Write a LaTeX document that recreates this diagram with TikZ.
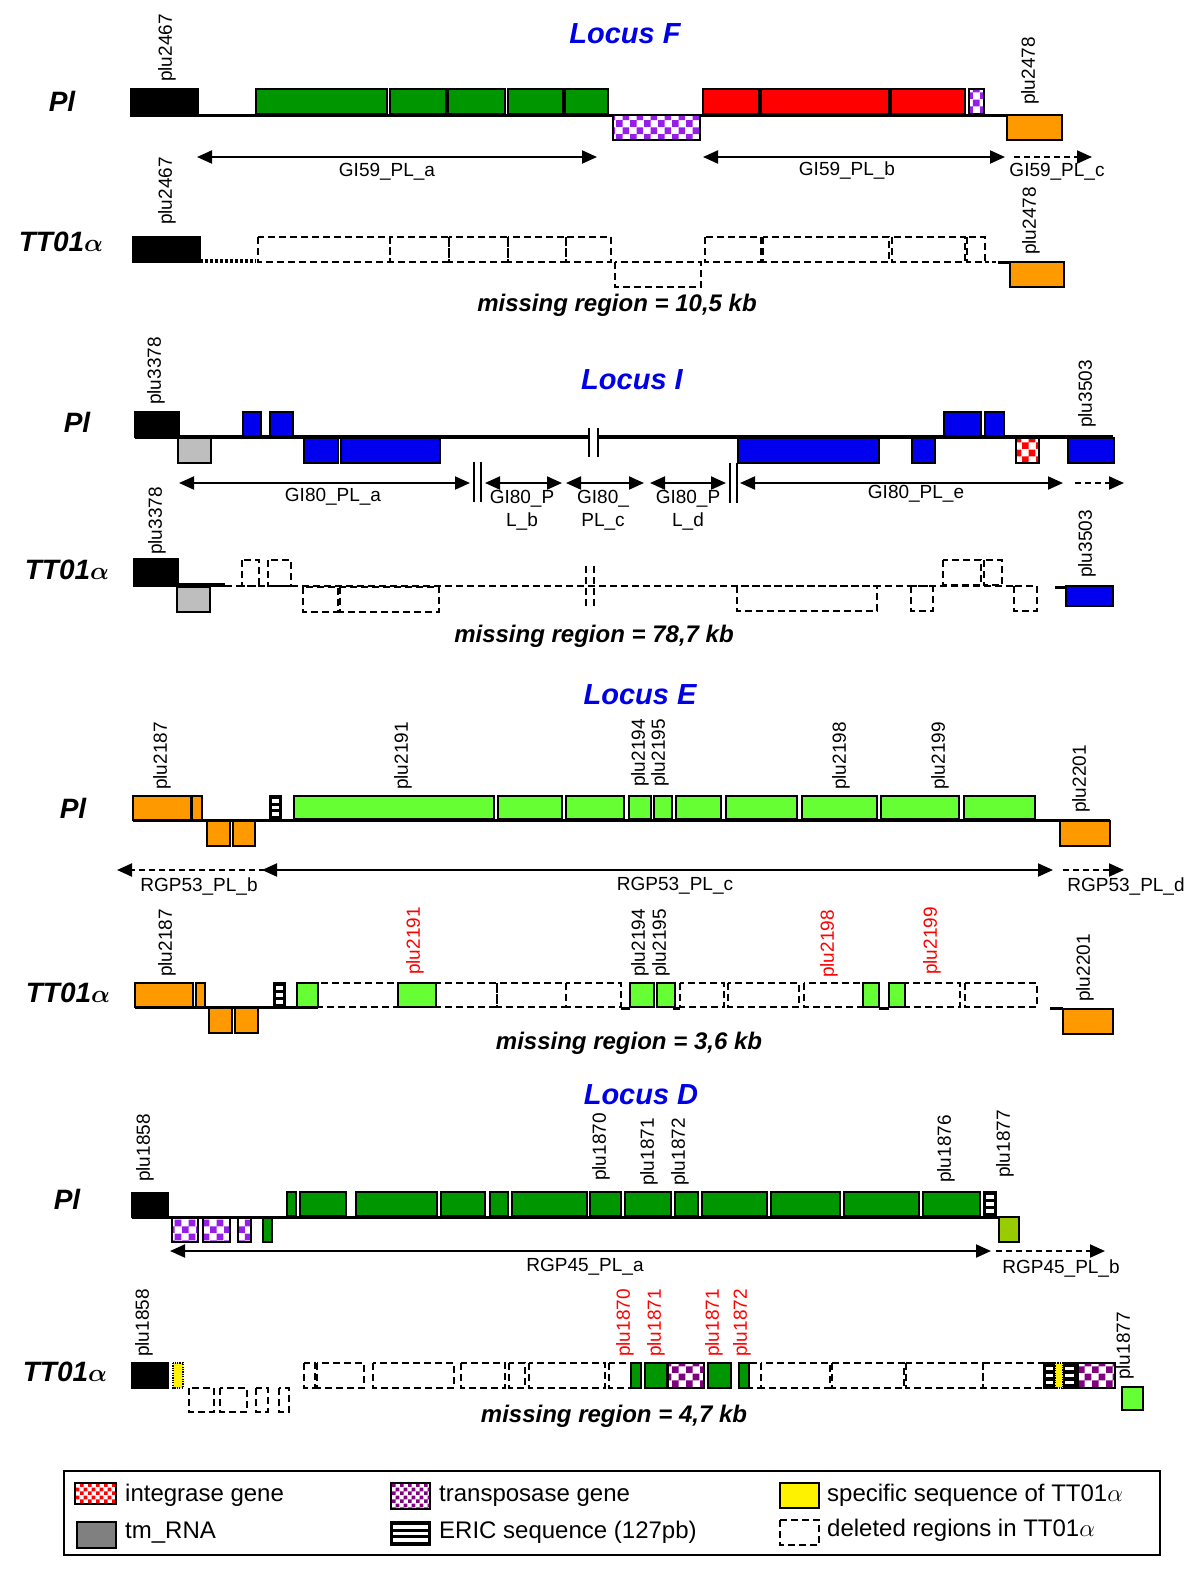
\documentclass[tikz,border=0pt]{standalone}
\usepackage{fontspec}
\setmainfont{Liberation Sans}
\usetikzlibrary{arrows.meta,patterns}
\pgfdeclarepatternformonly{bigcheck}{\pgfpointorigin}{\pgfqpoint{14pt}{14pt}}{\pgfqpoint{14pt}{14pt}}{%
  \pgfpathrectangle{\pgfpointorigin}{\pgfqpoint{7pt}{7pt}}%
  \pgfpathrectangle{\pgfqpoint{7pt}{7pt}}{\pgfqpoint{7pt}{7pt}}%
  \pgfusepath{fill}}
\pgfdeclarepatternformonly{smallcheck}{\pgfpointorigin}{\pgfqpoint{8pt}{8pt}}{\pgfqpoint{8pt}{8pt}}{%
  \pgfpathrectangle{\pgfpointorigin}{\pgfqpoint{4pt}{4pt}}%
  \pgfpathrectangle{\pgfqpoint{4pt}{4pt}}{\pgfqpoint{4pt}{4pt}}%
  \pgfusepath{fill}}
\definecolor{dgreen}{RGB}{0,150,0}
\definecolor{lgreen}{RGB}{102,255,51}
\definecolor{gorange}{RGB}{255,153,0}
\definecolor{gblue}{RGB}{0,0,238}
\definecolor{gviolet}{RGB}{150,30,230}
\definecolor{dpurple}{RGB}{128,0,128}
\definecolor{ygreen}{RGB}{153,204,0}
\definecolor{lgray}{RGB}{190,190,190}
\definecolor{mgray}{RGB}{128,128,128}
\definecolor{tblue}{RGB}{0,0,230}
\definecolor{gred}{RGB}{255,0,0}
\newcommand{\labfont}{\fontsize{19}{23}\selectfont}
\newcommand{\strainfont}{\fontsize{28}{28}\selectfont\bfseries\itshape}
\newcommand{\titlefont}{\fontsize{29}{29}\selectfont\bfseries\itshape}
\newcommand{\missfont}{\fontsize{24}{24}\selectfont\bfseries\itshape}
\newcommand{\legfont}{\fontsize{24}{24}\selectfont}
\newcommand{\genebox}[5]{\filldraw[gbox,fill=#5] (#1,#2) rectangle (#3,#4);}
\newcommand{\delbox}[4]{\draw[dbox] (#1,#2) rectangle (#3,#4);}
\newcommand{\chkbox}[6]{\fill[white] (#1,#2) rectangle (#3,#4);
  \fill[pattern=#6,pattern color=#5] (#1,#2) rectangle (#3,#4);
  \draw[gbox] (#1,#2) rectangle (#3,#4);}
\newcommand{\ericbox}[4]{\fill[black] (#1-0.9,#2-0.9) rectangle (#3+0.9,#4+0.9);
  \pgfmathsetmacro{\ericstep}{(#4-#2)/7}
  \foreach \k in {1,3,5} {\fill[white] (#1+2,{#2+\k*\ericstep}) rectangle (#3-2,{#2+(\k+1)*\ericstep});}}
\newcommand{\yelbox}[4]{\fill[yellow] (#1,#2) rectangle (#3,#4);
  \draw[line width=1.2pt,dash pattern=on 1.2pt off 1.2pt] (#1,#2) rectangle (#3,#4);}
\newcommand{\TTa}{TT01{\boldmath$\alpha$}}
\begin{document}
\begin{tikzpicture}[x=1pt,y=-1pt,
  gbox/.style={draw=black,line width=1.8pt},
  dbox/.style={draw=black,line width=1.6pt,dash pattern=on 7pt off 4pt},
  bb/.style={line width=3pt},
  dbl/.style={line width=2pt,{Triangle[length=15pt,width=13pt]}-{Triangle[length=15pt,width=13pt]}},
  dsh/.style={line width=2pt,dash pattern=on 6pt off 4pt,-{Triangle[length=15pt,width=13pt]}},
  bar/.style={line width=1.5pt},
  glab/.style={rotate=90,anchor=west,inner sep=0pt,font=\labfont},
  alab/.style={inner sep=0pt,font=\labfont,align=center},
  strain/.style={inner sep=0pt,font=\strainfont},
  ttl/.style={inner sep=0pt,font=\titlefont,text=tblue},
  miss/.style={inner sep=0pt,font=\missfont},
  leg/.style={anchor=west,inner sep=0pt,font=\legfont}]
\fill[white] (0,0) rectangle (1200,1583);
\useasboundingbox (0,0) rectangle (1200,1583);

%%%%%%%%%%%%%%%% LOCUS F
\node[ttl] (tiF) at (625,34) {Locus F};
\node[strain] (plF) at (62,101) {Pl};
\draw[bb] (131,115) -- (1007,115);
\genebox{131}{89}{198}{116}{black}
\genebox{256}{89}{387}{114}{dgreen}
\genebox{390}{89}{446}{114}{dgreen}
\genebox{448}{89}{505}{114}{dgreen}
\genebox{508}{89}{563}{114}{dgreen}
\genebox{565}{89}{608}{114}{dgreen}
\chkbox{613}{115}{700}{140}{gviolet}{bigcheck}
\genebox{703}{89}{759}{114}{gred}
\genebox{761}{89}{889}{114}{gred}
\genebox{891}{89}{965}{114}{gred}
\chkbox{969}{89}{984}{114}{gviolet}{bigcheck}
\genebox{1007}{115}{1062}{140}{gorange}
\node[glab] (gF1) at (167,82) {plu2467};
\node[glab] (gF2) at (1030,105) {plu2478};
\draw[dbl] (197,157) -- (597,157);
\node[alab] (aF1) at (387,172) {GI59\_PL\_a};
\draw[dbl] (703,157) -- (1005,157);
\node[alab] (aF2) at (847,170) {GI59\_PL\_b};
\draw[dsh] (1014,157) -- (1092,157);
\node[alab] (aF3) at (1057,172) {GI59\_PL\_c};

\node[strain] (ttF) at (61,242) {\TTa};
\genebox{133}{237}{200}{262}{black}
\draw[line width=3.5pt,dash pattern=on 3pt off 2pt] (200,261) -- (256,261);
\delbox{258}{237}{390}{262}
\delbox{390}{237}{449}{262}
\delbox{449}{237}{508}{262}
\delbox{508}{237}{566}{262}
\delbox{566}{237}{611}{262}
\delbox{615}{262}{701}{287}
\delbox{705}{237}{761}{262}
\delbox{763}{237}{889}{262}
\delbox{892}{237}{965}{262}
\delbox{967}{237}{985}{262}
\draw[line width=1.6pt,dash pattern=on 4pt off 3pt] (985,262) -- (998,262);
\draw[line width=3pt] (998,262) -- (1011,262);
\genebox{1010}{262}{1064}{287}{gorange}
\node[glab] (gF3) at (167,225) {plu2467};
\node[glab] (gF4) at (1031,255) {plu2478};
\node[miss] (mF) at (617,305) {missing region = 10,5 kb};

%%%%%%%%%%%%%%%% LOCUS I
\node[ttl] (tiI) at (632,380) {Locus I};
\node[strain] (plI) at (77,422) {Pl};
\draw[line width=4pt] (135,437) -- (1113,437);
\fill[white] (590,428) rectangle (597,447);
\draw[bar,line width=2.5pt] (589,428) -- (589,457);
\draw[bar,line width=2.5pt] (598,428) -- (598,457);
\genebox{135}{412}{179}{437}{black}
\genebox{178}{438}{211}{463}{lgray}
\genebox{243}{412}{261}{436}{gblue}
\genebox{270}{412}{293}{436}{gblue}
\genebox{304}{438}{338}{463}{gblue}
\genebox{341}{438}{440}{463}{gblue}
\genebox{738}{438}{879}{463}{gblue}
\genebox{912}{438}{935}{463}{gblue}
\genebox{944}{412}{981}{436}{gblue}
\genebox{985}{412}{1004}{436}{gblue}
\chkbox{1016}{438}{1039}{463}{gred}{bigcheck}
\genebox{1068}{438}{1114}{463}{gblue}
\node[glab] (gI1) at (156,405) {plu3378};
\node[glab] (gI2) at (1087,428) {plu3503};
\draw[dbl] (179,483) -- (470,483);
\node[alab] (aI1) at (333,497) {GI80\_PL\_a};
\draw[bar] (474,462) -- (474,502);
\draw[bar] (481,462) -- (481,502);
\draw[dbl] (485,483) -- (562,483);
\node[alab] (aI2) at (522,510) {GI80\_P\\L\_b};
\draw[dbl] (566,483) -- (644,483);
\node[alab] (aI3) at (603,510) {GI80\_\\PL\_c};
\draw[dbl] (650,483) -- (726,483);
\node[alab] (aI4) at (688,510) {GI80\_P\\L\_d};
\draw[bar] (730,463) -- (730,503);
\draw[bar] (737,463) -- (737,503);
\draw[dbl] (740,483) -- (1063,483);
\node[alab] (aI5) at (916,494) {GI80\_PL\_e};
\draw[dsh] (1075,483) -- (1124,483);

\node[strain] (ttI) at (67,570) {\TTa};
\draw[line width=1.6pt,dash pattern=on 7pt off 4pt] (225,586) -- (1014,586);
\genebox{134}{559}{178}{586}{black}
\genebox{177}{587}{210}{612}{lgray}
\draw[line width=4pt] (178,585) -- (225,585);
\delbox{242}{560}{259}{586}
\delbox{268}{560}{291}{586}
\delbox{303}{587}{338}{612}
\delbox{340}{587}{439}{612}
\draw[dbox] (586,566) -- (586,606);
\draw[dbox] (594,566) -- (594,606);
\delbox{737}{586}{877}{611}
\delbox{911}{586}{933}{611}
\delbox{1014}{586}{1037}{611}
\delbox{943}{560}{981}{585}
\delbox{984}{560}{1002}{585}
\draw[line width=3pt] (1055,587) -- (1066,587);
\genebox{1066}{586}{1113}{606}{gblue}
\node[glab] (gI3) at (157,555) {plu3378};
\node[glab] (gI4) at (1087,578) {plu3503};
\node[miss] (mI) at (594,636) {missing region = 78,7 kb};

%%%%%%%%%%%%%%%% LOCUS E
\node[ttl] (tiE) at (640,695) {Locus E};
\node[strain] (plE) at (73,808) {Pl};
\draw[bb] (133,820) -- (1110,820);
\genebox{133}{796}{191}{820}{gorange}
\genebox{192}{796}{202}{820}{gorange}
\genebox{207}{821}{230}{846}{gorange}
\genebox{233}{821}{255}{846}{gorange}
\ericbox{270}{796}{281}{819}
\genebox{294}{796}{494}{819}{lgreen}
\genebox{498}{796}{562}{819}{lgreen}
\genebox{566}{796}{624}{819}{lgreen}
\genebox{629}{796}{651}{819}{lgreen}
\genebox{654}{796}{672}{819}{lgreen}
\genebox{676}{796}{721}{819}{lgreen}
\genebox{726}{796}{797}{819}{lgreen}
\genebox{802}{796}{877}{819}{lgreen}
\genebox{881}{796}{959}{819}{lgreen}
\genebox{964}{796}{1035}{819}{lgreen}
\genebox{1060}{821}{1110}{846}{gorange}
\node[glab] (gE1) at (162,790) {plu2187};
\node[glab] (gE2) at (403,790) {plu2191};
\node[glab] (gE3) at (640,787) {plu2194};
\node[glab] (gE4) at (660,787) {plu2195};
\node[glab] (gE5) at (841,790) {plu2198};
\node[glab] (gE6) at (940,790) {plu2199};
\node[glab] (gE7) at (1081,813) {plu2201};
\draw[dsh] (265,870) -- (117,870);
\draw[dbl] (262,870) -- (1053,870);
\draw[dsh] (1063,870) -- (1124,870);
\node[alab] (aE1) at (199,886) {RGP53\_PL\_b};
\node[alab] (aE2) at (675,886) {RGP53\_PL\_c};
\node[alab] (aE3) at (1126,886) {RGP53\_PL\_d};

\node[strain] (ttE) at (68,993) {\TTa};
\draw[bb] (135,1007) -- (318,1007);
\genebox{135}{983}{193}{1007}{gorange}
\genebox{196}{983}{205}{1007}{gorange}
\genebox{209}{1008}{232}{1033}{gorange}
\genebox{235}{1008}{258}{1033}{gorange}
\ericbox{274}{983}{285}{1007}
\genebox{297}{983}{318}{1007}{lgreen}
\delbox{318}{983}{398}{1007}
\genebox{398}{983}{436}{1007}{lgreen}
\delbox{436}{983}{497}{1007}
\delbox{497}{983}{566}{1007}
\delbox{566}{983}{621}{1007}
\genebox{630}{983}{654}{1007}{lgreen}
\genebox{657}{983}{675}{1007}{lgreen}
\delbox{680}{983}{724}{1007}
\delbox{728}{983}{799}{1007}
\delbox{804}{983}{863}{1007}
\genebox{863}{983}{879}{1007}{lgreen}
\genebox{889}{983}{905}{1007}{lgreen}
\delbox{905}{983}{960}{1007}
\delbox{965}{983}{1037}{1007}
\draw[bb] (621,1008) -- (630,1008);
\draw[bb] (673,1008) -- (680,1008);
\draw[bb] (879,1008) -- (889,1008);
\draw[bb] (1050,1008) -- (1063,1008);
\genebox{1063}{1009}{1113}{1034}{gorange}
\node[glab] (gE8) at (167,977) {plu2187};
\node[glab,text=red] (gE9) at (415,975) {plu2191};
\node[glab] (gE10) at (640,977) {plu2194};
\node[glab] (gE11) at (661,977) {plu2195};
\node[glab,text=red] (gE12) at (829,978) {plu2198};
\node[glab,text=red] (gE13) at (932,975) {plu2199};
\node[glab] (gE14) at (1085,1002) {plu2201};
\node[miss] (mE) at (629,1043) {missing region = 3,6 kb};

%%%%%%%%%%%%%%%% LOCUS D
\node[ttl] (tiD) at (641,1095) {Locus D};
\node[strain] (plD) at (67,1199) {Pl};
\draw[bb] (132,1217) -- (999,1217);
\genebox{132}{1193}{168}{1217}{black}
\chkbox{172}{1218}{198}{1242}{gviolet}{bigcheck}
\chkbox{203}{1218}{230}{1242}{gviolet}{bigcheck}
\chkbox{238}{1218}{251}{1242}{gviolet}{bigcheck}
\genebox{263}{1218}{272}{1242}{dgreen}
\genebox{287}{1192}{296}{1216}{dgreen}
\genebox{300}{1192}{346}{1216}{dgreen}
\genebox{356}{1192}{437}{1216}{dgreen}
\genebox{441}{1192}{485}{1216}{dgreen}
\genebox{490}{1192}{508}{1216}{dgreen}
\genebox{512}{1192}{587}{1216}{dgreen}
\genebox{590}{1192}{621}{1216}{dgreen}
\genebox{625}{1192}{671}{1216}{dgreen}
\genebox{675}{1192}{698}{1216}{dgreen}
\genebox{702}{1192}{767}{1216}{dgreen}
\genebox{771}{1192}{840}{1216}{dgreen}
\genebox{844}{1192}{919}{1216}{dgreen}
\genebox{923}{1192}{980}{1216}{dgreen}
\ericbox{984}{1192}{996}{1216}
\genebox{999}{1217}{1019}{1242}{ygreen}
\node[glab] (gD1) at (145,1182) {plu1858};
\node[glab] (gD2) at (601,1181) {plu1870};
\node[glab] (gD3) at (649,1186) {plu1871};
\node[glab] (gD4) at (680,1186) {plu1872};
\node[glab] (gD5) at (946,1183) {plu1876};
\node[glab] (gD6) at (1005,1178) {plu1877};
\draw[dbl] (170,1251) -- (991,1251);
\node[alab] (aD1) at (585,1267) {RGP45\_PL\_a};
\draw[dsh] (996,1251) -- (1105,1251);
\node[alab] (aD2) at (1061,1268) {RGP45\_PL\_b};

\node[strain] (ttD) at (65,1372) {\TTa};
\genebox{132}{1363}{168}{1388}{black}
\yelbox{173}{1363}{183}{1388}
\delbox{189}{1388}{214}{1412}
\delbox{220}{1388}{247}{1412}
\delbox{256}{1388}{268}{1412}
\delbox{279}{1388}{289}{1412}
\delbox{304}{1363}{315}{1388}
\delbox{317}{1363}{364}{1388}
\delbox{373}{1363}{454}{1388}
\delbox{461}{1363}{505}{1388}
\delbox{509}{1363}{525}{1388}
\delbox{529}{1363}{605}{1388}
\delbox{609}{1363}{631}{1388}
\genebox{631}{1363}{641}{1388}{dgreen}
\genebox{645}{1363}{667}{1388}{dgreen}
\chkbox{668}{1363}{704}{1388}{dpurple}{bigcheck}
\genebox{708}{1363}{731}{1388}{dgreen}
\genebox{739}{1363}{749}{1388}{dgreen}
\delbox{749}{1363}{761}{1388}
\delbox{761}{1363}{830}{1388}
\delbox{832}{1363}{904}{1388}
\delbox{906}{1363}{983}{1388}
\delbox{983}{1363}{1044}{1388}
\ericbox{1044}{1363}{1055}{1388}
\ericbox{1063}{1363}{1076}{1388}
\yelbox{1055}{1363}{1063}{1388}
\chkbox{1078}{1363}{1115}{1388}{dpurple}{bigcheck}
\genebox{1122}{1387}{1143}{1410}{lgreen}
\node[glab] (gD7) at (144,1357) {plu1858};
\node[glab,text=red] (gD8) at (625,1357) {plu1870};
\node[glab,text=red] (gD9) at (656,1357) {plu1871};
\node[glab,text=red] (gD10) at (714,1357) {plu1871};
\node[glab,text=red] (gD11) at (742,1357) {plu1872};
\node[glab] (gD12) at (1125,1380) {plu1877};
\node[miss] (mD) at (614,1416) {missing region = 4,7 kb};

%%%%%%%%%%%%%%%% LEGEND
\draw[line width=2pt] (64,1471) rectangle (1160,1555);
\chkbox{75}{1483}{116}{1504}{gred}{smallcheck}
\node[leg] (l1) at (125,1495) {integrase gene};
\genebox{77}{1522}{116}{1548}{mgray}
\node[leg] (l2) at (125,1533) {tm\_RNA};
\chkbox{391}{1483}{430}{1509}{dpurple}{smallcheck}
\node[leg] (l3) at (439,1496) {transposase gene};
\ericbox{391}{1522}{430}{1545}
\node[leg] (l4) at (439,1532) {ERIC sequence (127pb)};
\genebox{780}{1483}{819}{1508}{yellow}
\node[leg] (l5) at (827,1495) {specific sequence of TT01$\alpha$};
\delbox{780}{1520}{819}{1545}
\node[leg] (l6) at (827,1530) {deleted regions in TT01$\alpha$};
\end{tikzpicture}
\end{document}
